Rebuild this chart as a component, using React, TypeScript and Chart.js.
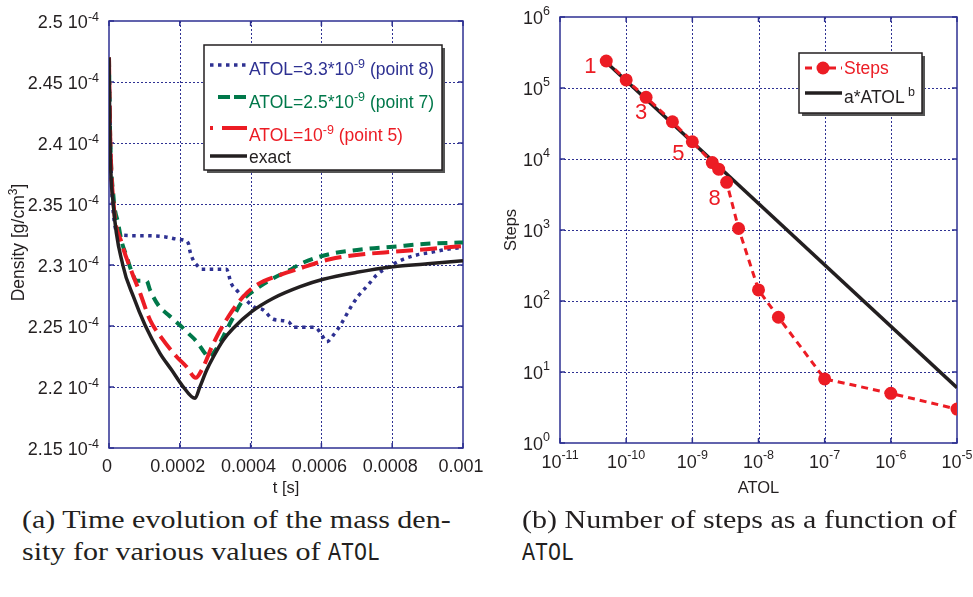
import React, { useEffect, useRef } from "react";
import { Chart, registerables } from "chart.js";

Chart.register(...registerables);

const NAVY = "#2e3192";
const GREEN = "#00784a";
const RED = "#ec1c24";
const BLACK = "#231f20";
const TEXT = "#231f20";
const SANS = '"Liberation Sans", Arial, Helvetica, sans-serif';

// ---------- Panel (a): time in units of 1e-4 s, density in units of 1e-4 g/cm^3 ----------
const tTicks = [0, 2, 4, 6, 8, 10];
const tTickLabels = ["0", "0.0002", "0.0004", "0.0006", "0.0008", "0.001"];
const rhoTicks = [2.15, 2.2, 2.25, 2.3, 2.35, 2.4, 2.45, 2.5];
const rhoTickLabels = ["2.15", "2.2", "2.25", "2.3", "2.35", "2.4", "2.45", "2.5"];
const rhoExponent = "-4";

const exactT = [0, 0.03, 0.12, 0.39, 0.69, 1.02, 1.44, 1.77, 2.08, 2.43, 2.57, 2.76, 2.95, 3.23, 3.51, 4.03, 4.64, 5.4, 6.05, 7.0, 8.03, 9.0, 10.0];
const exactRho = [2.47, 2.4, 2.35, 2.3, 2.274, 2.2506, 2.2276, 2.2139, 2.2008, 2.1907, 2.2003, 2.2139, 2.2248, 2.2385, 2.2481, 2.2617, 2.2727, 2.2822, 2.2883, 2.294, 2.2986, 2.301, 2.3035];

const p5T = [0, 0.03, 0.13, 0.36, 0.64, 0.88, 1.16, 1.49, 1.91, 2.19, 2.45, 2.62, 2.95, 3.37, 3.79, 4.17, 4.83, 5.4, 6.24, 6.99, 8.03, 8.97, 10.0];
const p5Rho = [2.47, 2.41, 2.35, 2.318, 2.2945, 2.2768, 2.2549, 2.24, 2.2248, 2.2166, 2.2075, 2.214, 2.2358, 2.2576, 2.274, 2.2836, 2.2918, 2.2973, 2.3047, 2.3082, 2.3109, 2.3129, 2.3156];

const p7T = [0, 0.03, 0.13, 0.26, 0.36, 0.5, 0.64, 0.78, 1.06, 1.16, 1.39, 1.68, 2.0, 2.24, 2.48, 2.71, 2.81, 3.05, 3.37, 3.79, 4.12, 4.64, 5.11, 5.44, 6.24, 7.18, 8.03, 8.88, 9.73, 10.0];
const p7Rho = [2.47, 2.41, 2.355, 2.334, 2.319, 2.307, 2.2945, 2.287, 2.287, 2.2795, 2.2672, 2.259, 2.2508, 2.244, 2.2371, 2.2276, 2.2243, 2.232, 2.2495, 2.2713, 2.2795, 2.2891, 2.2959, 2.3014, 2.309, 2.3129, 2.315, 2.3172, 2.3183, 2.3185];

const p8T = [0, 0.04, 0.1, 0.3, 1.0, 1.6, 1.96, 2.1, 2.24, 2.29, 2.38, 2.48, 2.62, 3.32, 3.45, 3.6, 3.79, 4.08, 4.36, 4.64, 5.07, 5.21, 5.82, 6.01, 6.15, 6.34, 6.57, 6.81, 7.04, 7.32, 7.56, 7.99, 8.31, 8.69, 9.12, 9.54, 10.0];
const p8Rho = [2.47, 2.4, 2.35, 2.3246, 2.324, 2.323, 2.321, 2.3205, 2.3178, 2.311, 2.304, 2.3, 2.2965, 2.2965, 2.285, 2.2795, 2.274, 2.2658, 2.2631, 2.2555, 2.2535, 2.2489, 2.2489, 2.2426, 2.2371, 2.2426, 2.2522, 2.2645, 2.2746, 2.2836, 2.2918, 2.3, 2.3047, 2.3082, 2.3104, 2.3129, 2.3145];

// ---------- Panel (b) ----------
const atol = [5e-11, 1e-10, 2e-10, 5e-10, 1e-9, 2e-9, 2.5e-9, 3.3e-9, 5e-9, 1e-8, 2e-8, 1e-7, 1e-6, 1e-5];
const steps = [240000, 130000, 74000, 33500, 17500, 8900, 7200, 4700, 1050, 143, 59, 8, 5, 3];
const fitAtol = [5e-11, 1e-5];
const fitSteps = [230000, 6];
const atolTicks = [1e-11, 1e-10, 1e-9, 1e-8, 1e-7, 1e-6, 1e-5];
const atolTickExp = ["-11", "-10", "-9", "-8", "-7", "-6", "-5"];
const stepTicks = [1, 10, 100, 1000, 10000, 100000, 1000000];
const stepTickExp = ["0", "1", "2", "3", "4", "5", "6"];
const pointLabels = ["1", "3", "5", "8"];
const pointLabelIndex = [0, 2, 4, 7];
const pointLabelOffset = [[-16, 6], [-5, 16], [-14, 12], [-12, 17]];

const pts = (xs: number[], ys: number[]) => xs.map((x, i) => ({ x, y: ys[i] }));

type Part = { t: string; sup?: boolean };

function drawParts(
  ctx: CanvasRenderingContext2D,
  parts: Part[],
  x: number,
  y: number,
  align: "left" | "right" | "center",
  size: number,
  supSize: number,
  raise: number,
  color: string
) {
  const widths = parts.map((p) => {
    ctx.font = `${p.sup ? supSize : size}px ${SANS}`;
    return ctx.measureText(p.t).width;
  });
  const total = widths.reduce((a, b) => a + b, 0);
  let cx = align === "left" ? x : align === "right" ? x - total : x - total / 2;
  ctx.fillStyle = color;
  ctx.textAlign = "left";
  ctx.textBaseline = "alphabetic";
  parts.forEach((p, i) => {
    ctx.font = `${p.sup ? supSize : size}px ${SANS}`;
    ctx.fillText(p.t, cx, p.sup ? y - raise : y);
    cx += widths[i];
  });
}

function drawGridAndFrame(chart: any, xVals: number[], yVals: number[]) {
  const ctx: CanvasRenderingContext2D = chart.ctx;
  const { left, right, top, bottom } = chart.chartArea;
  const xs = chart.scales.x;
  const ys = chart.scales.y;
  ctx.save();
  ctx.strokeStyle = NAVY;
  ctx.lineWidth = 1;
  ctx.setLineDash([2, 2]);
  xVals.forEach((v) => {
    const px = Math.round(xs.getPixelForValue(v)) + 0.5;
    if (px - left < 2 || right - px < 2) return;
    ctx.beginPath();
    ctx.moveTo(px, top);
    ctx.lineTo(px, bottom);
    ctx.stroke();
  });
  yVals.forEach((v) => {
    const py = Math.round(ys.getPixelForValue(v)) + 0.5;
    if (py - top < 2 || bottom - py < 2) return;
    ctx.beginPath();
    ctx.moveTo(left, py);
    ctx.lineTo(right, py);
    ctx.stroke();
  });
  ctx.setLineDash([]);
  ctx.lineWidth = 1.5;
  xVals.forEach((v) => {
    const px = xs.getPixelForValue(v);
    ctx.beginPath();
    ctx.moveTo(px, bottom);
    ctx.lineTo(px, bottom - 5);
    ctx.moveTo(px, top);
    ctx.lineTo(px, top + 5);
    ctx.stroke();
  });
  yVals.forEach((v) => {
    const py = ys.getPixelForValue(v);
    ctx.beginPath();
    ctx.moveTo(left, py);
    ctx.lineTo(left + 5, py);
    ctx.moveTo(right, py);
    ctx.lineTo(right - 5, py);
    ctx.stroke();
  });
  ctx.strokeRect(left, top, right - left, bottom - top);
  ctx.restore();
}

function legendBox(ctx: CanvasRenderingContext2D, x: number, y: number, w: number, h: number) {
  ctx.save();
  ctx.fillStyle = "#555555";
  ctx.fillRect(x + 3, y + 3, w, h);
  ctx.fillStyle = "#ffffff";
  ctx.fillRect(x, y, w, h);
  ctx.strokeStyle = BLACK;
  ctx.lineWidth = 1.5;
  ctx.strokeRect(x, y, w, h);
  ctx.restore();
}

function seg(ctx: CanvasRenderingContext2D, x1: number, x2: number, y: number, color: string, width: number, dash: number[] = []) {
  ctx.save();
  ctx.strokeStyle = color;
  ctx.lineWidth = width;
  ctx.lineCap = "butt";
  ctx.setLineDash(dash);
  ctx.beginPath();
  ctx.moveTo(x1, y);
  ctx.lineTo(x2, y);
  ctx.stroke();
  ctx.restore();
}

const TICK = 18;
const SUP = 12.5;
const LEG = 17.5;

const leftDecor = {
  id: "leftDecor",
  beforeDatasetsDraw(chart: any) {
    drawGridAndFrame(chart, tTicks, rhoTicks);
  },
  afterDatasetsDraw(chart: any) {
    const ctx: CanvasRenderingContext2D = chart.ctx;
    legendBox(ctx, 204, 45, 238, 125);
    seg(ctx, 210, 247, 65, NAVY, 3.5, [3.5, 4.5]);
    drawParts(ctx, [{ t: "ATOL=3.3*10" }, { t: "-9", sup: true }, { t: " (point 8)" }], 249, 75, "left", LEG, SUP, 7, NAVY);
    seg(ctx, 218, 230, 97, GREEN, 4);
    seg(ctx, 234, 246, 97, GREEN, 4);
    drawParts(ctx, [{ t: "ATOL=2.5*10" }, { t: "-9", sup: true }, { t: " (point 7)" }], 249, 108, "left", LEG, SUP, 7, GREEN);
    seg(ctx, 210, 213, 128, RED, 4);
    seg(ctx, 222, 247, 128, RED, 4);
    drawParts(ctx, [{ t: "ATOL=10" }, { t: "-9", sup: true }, { t: " (point 5)" }], 249, 141, "left", LEG, SUP, 7, RED);
    seg(ctx, 210, 247, 156, BLACK, 3.5);
    drawParts(ctx, [{ t: "exact" }], 249, 163, "left", LEG, SUP, 7, BLACK);
  },
  afterDraw(chart: any) {
    const ctx: CanvasRenderingContext2D = chart.ctx;
    const xs = chart.scales.x;
    const ys = chart.scales.y;
    tTicks.forEach((v, i) => {
      drawParts(ctx, [{ t: tTickLabels[i] }], xs.getPixelForValue(v) - 2, 472, "center", TICK, SUP, 7, TEXT);
    });
    rhoTicks.forEach((v, i) => {
      drawParts(ctx, [{ t: rhoTickLabels[i] + " 10" }, { t: rhoExponent, sup: true }], 99, ys.getPixelForValue(v) + 6.5, "right", TICK, SUP, 7, TEXT);
    });
    const { left, right, top, bottom } = chart.chartArea;
    drawParts(ctx, [{ t: "t [s]" }], (left + right) / 2, 493, "center", 16.5, 11, 6, TEXT);
    ctx.save();
    ctx.translate(24, (top + bottom) / 2 + 8);
    ctx.rotate(-Math.PI / 2);
    drawParts(ctx, [{ t: "Density [g/cm" }, { t: "3", sup: true }, { t: "]" }], 0, 0, "center", 17.5, 12, 7, TEXT);
    ctx.restore();
  },
};

const rightDecor = {
  id: "rightDecor",
  beforeDatasetsDraw(chart: any) {
    drawGridAndFrame(chart, atolTicks, stepTicks);
  },
  afterDatasetsDraw(chart: any) {
    const ctx: CanvasRenderingContext2D = chart.ctx;
    const xs = chart.scales.x;
    const ys = chart.scales.y;
    pointLabels.forEach((lab, k) => {
      const i = pointLabelIndex[k];
      const px = xs.getPixelForValue(atol[i]) + pointLabelOffset[k][0];
      const py = ys.getPixelForValue(steps[i]) + pointLabelOffset[k][1];
      ctx.save();
      ctx.font = `22px ${SANS}`;
      ctx.fillStyle = RED;
      ctx.textAlign = "center";
      ctx.textBaseline = "middle";
      ctx.fillText(lab, px, py);
      ctx.restore();
    });
    const ox = -480;
    legendBox(ctx, 799 + ox, 53, 123, 60);
    seg(ctx, 805 + ox, 842 + ox, 68, RED, 3, [7, 5]);
    ctx.save();
    ctx.fillStyle = RED;
    ctx.beginPath();
    ctx.arc(823 + ox, 68, 6.5, 0, Math.PI * 2);
    ctx.fill();
    ctx.restore();
    drawParts(ctx, [{ t: "Steps" }], 844 + ox, 74, "left", LEG, SUP, 7, RED);
    seg(ctx, 805 + ox, 842 + ox, 93, BLACK, 3.5);
    drawParts(ctx, [{ t: "a*ATOL" }, { t: " b", sup: true }], 844 + ox, 103, "left", LEG, SUP, 7, BLACK);
  },
  afterDraw(chart: any) {
    const ctx: CanvasRenderingContext2D = chart.ctx;
    const xs = chart.scales.x;
    const ys = chart.scales.y;
    atolTicks.forEach((v, i) => {
      drawParts(ctx, [{ t: "10" }, { t: atolTickExp[i], sup: true }], xs.getPixelForValue(v), 468, "center", TICK, SUP, 9, TEXT);
    });
    stepTicks.forEach((v, i) => {
      drawParts(ctx, [{ t: "10" }, { t: stepTickExp[i], sup: true }], 70, ys.getPixelForValue(v) + 6.5, "right", TICK, SUP, 9, TEXT);
    });
    const { left, right, top, bottom } = chart.chartArea;
    drawParts(ctx, [{ t: "ATOL" }], (left + right) / 2, 493, "center", 16.5, 11, 6, TEXT);
    ctx.save();
    ctx.translate(36, (top + bottom) / 2);
    ctx.rotate(-Math.PI / 2);
    drawParts(ctx, [{ t: "Steps" }], 0, 0, "center", 16.5, 11, 6, TEXT);
    ctx.restore();
  },
};

export default function App() {
  const leftRef = useRef<HTMLCanvasElement | null>(null);
  const rightRef = useRef<HTMLCanvasElement | null>(null);

  useEffect(() => {
    const common = (pad: any) => ({
      animation: false as const,
      responsive: false,
      events: [] as any,
      layout: { padding: pad },
      plugins: { legend: { display: false }, tooltip: { enabled: false } },
    });

    const left = new Chart(leftRef.current as HTMLCanvasElement, {
      type: "line",
      data: {
        datasets: [
          { label: "exact", data: pts(exactT, exactRho), borderColor: BLACK, borderWidth: 3.5, pointRadius: 0, cubicInterpolationMode: "monotone" },
          { label: "ATOL=1e-9 (point 5)", data: pts(p5T, p5Rho), borderColor: RED, borderWidth: 4, borderDash: [17, 7], pointRadius: 0, cubicInterpolationMode: "monotone" },
          { label: "ATOL=2.5e-9 (point 7)", data: pts(p7T, p7Rho), borderColor: GREEN, borderWidth: 4, borderDash: [10, 7], pointRadius: 0, cubicInterpolationMode: "monotone" },
          { label: "ATOL=3.3e-9 (point 8)", data: pts(p8T, p8Rho), borderColor: NAVY, borderWidth: 3.5, borderDash: [3.5, 4.5], pointRadius: 0, cubicInterpolationMode: "monotone" },
        ],
      },
      options: {
        ...common({ left: 109, top: 21, right: 37, bottom: 52 }),
        scales: {
          x: { type: "linear", min: 0, max: 10, display: false },
          y: { type: "linear", min: 2.15, max: 2.5, display: false },
        },
      } as any,
      plugins: [leftDecor],
    });

    const right = new Chart(rightRef.current as HTMLCanvasElement, {
      type: "line",
      data: {
        datasets: [
          { label: "Steps", data: pts(atol, steps), borderColor: RED, borderWidth: 3, borderDash: [7, 5], pointRadius: 6.5, pointBackgroundColor: RED, pointBorderColor: RED, pointBorderWidth: 0 },
          { label: "a*ATOL^b", data: pts(fitAtol, fitSteps), borderColor: BLACK, borderWidth: 3.5, pointRadius: 0 },
        ],
      },
      options: {
        ...common({ left: 80, top: 17, right: 16, bottom: 57 }),
        scales: {
          x: { type: "logarithmic", min: 1e-11, max: 1e-5, display: false },
          y: { type: "logarithmic", min: 1, max: 1e6, display: false },
        },
      } as any,
      plugins: [rightDecor],
    });

    return () => {
      left.destroy();
      right.destroy();
    };
  }, []);

  const cap: React.CSSProperties = {
    position: "absolute",
    fontFamily: '"Liberation Serif", "Times New Roman", serif',
    fontSize: 26,
    lineHeight: "32px",
    color: TEXT,
    whiteSpace: "nowrap",
    transform: "scaleX(1.155)",
    transformOrigin: "left top",
  };
  const tt: React.CSSProperties = {
    fontFamily: '"Liberation Mono", "DejaVu Sans Mono", monospace',
    fontSize: 25,
    display: "inline-block",
    transform: "scaleX(0.75)",
    transformOrigin: "left center",
  };

  return (
    <div style={{ position: "absolute", left: 0, top: 0, width: 973, height: 597, background: "#fff", overflow: "hidden" }}>
      <canvas ref={leftRef} width={500} height={500} style={{ position: "absolute", left: 0, top: 0, width: 500, height: 500 }} />
      <canvas ref={rightRef} width={493} height={500} style={{ position: "absolute", left: 480, top: 0, width: 493, height: 500 }} />
      <div style={{ ...cap, left: 22, top: 504 }}>(a) Time evolution of the mass den-</div>
      <div style={{ ...cap, left: 22, top: 536 }}>
        sity for various values of <span style={tt}>ATOL</span>
      </div>
      <div style={{ ...cap, left: 522, top: 504 }}>(b) Number of steps as a function of</div>
      <div style={{ ...cap, left: 522, top: 536 }}>
        <span style={tt}>ATOL</span>
      </div>
    </div>
  );
}
